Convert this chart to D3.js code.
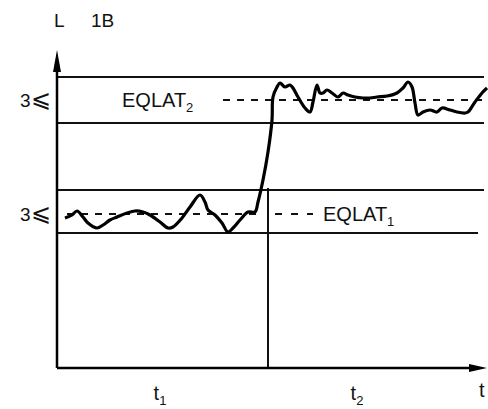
<!DOCTYPE html>
<html>
<head>
<meta charset="utf-8">
<script src="https://cdn.jsdelivr.net/npm/d3@7"></script>
<style>
  body { margin: 0; background: #fff; }
  svg text { font-family: "Liberation Sans", Arial, sans-serif; fill: #111; }
</style>
</head>
<body>
<div id="chart"></div>
<script>
// signal readings (time units, level units)
var sigT = [8,15,20,26,31,40,46,53,60,70,78,86,93,103,111,116,125,133,143,148,151,158,165,171,176,183,191,198,201,206,211,215,216,220,223,228,233,236,241,248,253,256,260,263,266,270,275,281,286,291,298,306,313,320,330,340,346,351,355,358,361,366,373,380,385,393,400,408,411,418,425,430];
var sigV = [150,153,157,151,145,140,143,148,151,155,157,156,153,146,140,141,150,161,173,166,158,153,145,136,140,148,156,156,166,188,216,248,271,281,285,281,283,280,271,260,256,266,283,275,275,278,275,271,275,273,271,270,270,271,272,275,280,286,281,265,253,256,258,256,260,258,256,255,256,266,275,280];

// band limits and mean levels
var bandLines = [291, 245, 178, 135];
var eqLevels = [268, 154];
var eqLabels = ["2", "1"];
var switchT = 211;
var tickT = [103, 300];
var tickLabels = ["1", "2"];

var margins = {top: 50, bottom: 41, left: 57, right: 1};
var svgWidth = 488, svgHeight = 409;

var svg = d3.select("#chart").append("svg")
    .attr("width", svgWidth)
    .attr("height", svgHeight);

var x = d3.scaleLinear().domain([0, 430]).range([margins.left, svgWidth - margins.right]);
var y = d3.scaleLinear().domain([0, 300]).range([svgHeight - margins.bottom, svgHeight - margins.bottom - 300]);

// band lines
svg.selectAll(".band")
    .data(bandLines)
    .enter()
    .append("line")
    .attr("x1", x(0))
    .attr("x2", (d, i) => i == 3 ? x(421) : x(427))
    .attr("y1", d => y(d))
    .attr("y2", d => y(d))
    .attr("stroke", "#111")
    .attr("stroke-width", 2);

// dashed mean levels
svg.append("line")
    .attr("x1", x(166)).attr("x2", x(430))
    .attr("y1", y(eqLevels[0])).attr("y2", y(eqLevels[0]))
    .attr("stroke", "#111").attr("stroke-width", 2)
    .attr("stroke-dasharray", "7,7");
svg.append("line")
    .attr("x1", x(10)).attr("x2", x(205))
    .attr("y1", y(eqLevels[1])).attr("y2", y(eqLevels[1]))
    .attr("stroke", "#111").attr("stroke-width", 2)
    .attr("stroke-dasharray", "7,7");
svg.append("line")
    .attr("x1", x(218)).attr("x2", x(256))
    .attr("y1", y(eqLevels[1])).attr("y2", y(eqLevels[1]))
    .attr("stroke", "#111").attr("stroke-width", 2)
    .attr("stroke-dasharray", "7,9");

// switch line
svg.append("line")
    .attr("x1", x(switchT)).attr("x2", x(switchT))
    .attr("y1", y(180)).attr("y2", y(0))
    .attr("stroke", "#111").attr("stroke-width", 2);

// the signal
var line = d3.line()
    .x((d, i) => x(sigT[i]))
    .y(d => y(d))
    .curve(d3.curveCatmullRom);
svg.append("path")
    .attr("d", line(sigV))
    .attr("fill", "none")
    .attr("stroke", "#000")
    .attr("stroke-width", 3.2)
    .attr("stroke-linejoin", "round");

// axes
svg.append("line")
    .attr("x1", x(0)).attr("x2", x(0))
    .attr("y1", y(0)).attr("y2", y(305))
    .attr("stroke", "#000").attr("stroke-width", 2.5);
svg.append("line")
    .attr("x1", x(0)).attr("x2", x(420))
    .attr("y1", y(0)).attr("y2", y(0))
    .attr("stroke", "#000").attr("stroke-width", 2.5);
svg.append("path")
    .attr("d", `M${x(0)},${y(318)} L${x(0) - 4},${y(296)} L${x(0) + 4},${y(296)} Z`)
    .attr("fill", "#000");
svg.append("path")
    .attr("d", `M${x(430)},${y(0)} L${x(412)},${y(0) - 4} L${x(412)},${y(0) + 4} Z`)
    .attr("fill", "#000");

// labels
svg.append("text").attr("x", 54).attr("y", 27).style("font-size", "19px").text("L");
svg.append("text").attr("x", 91).attr("y", 27).style("font-size", "19px").text("1B");

svg.selectAll(".lev")
    .data(eqLevels)
    .enter()
    .append("text")
    .attr("x", 20)
    .attr("y", d => y(d) + 7)
    .style("font-size", "19px")
    .each(function() {
        d3.select(this).append("tspan").text("3");
        d3.select(this).append("tspan").style("font-size", "24px").text("\u2A7D");
    });

var eq2 = svg.append("text").attr("x", 122).attr("y", y(eqLevels[0]) + 7).style("font-size", "20px");
eq2.append("tspan").text("EQLAT");
eq2.append("tspan").attr("dy", 5).style("font-size", "13px").text(eqLabels[0]);

var eq1 = svg.append("text").attr("x", 323).attr("y", y(eqLevels[1]) + 7).style("font-size", "20px");
eq1.append("tspan").text("EQLAT");
eq1.append("tspan").attr("dy", 5).style("font-size", "13px").text(eqLabels[1]);

svg.selectAll(".tick")
    .data(tickT)
    .enter()
    .append("text")
    .attr("x", d => x(d))
    .attr("y", 400)
    .style("font-size", "20px")
    .style("text-anchor", "middle")
    .each(function(d, i) {
        d3.select(this).append("tspan").text("t");
        d3.select(this).append("tspan").attr("dy", 5).style("font-size", "13px").text(tickLabels[i]);
    });
svg.append("text").attr("x", 479).attr("y", 397).style("font-size", "20px").text("t");
</script>
</body>
</html>
